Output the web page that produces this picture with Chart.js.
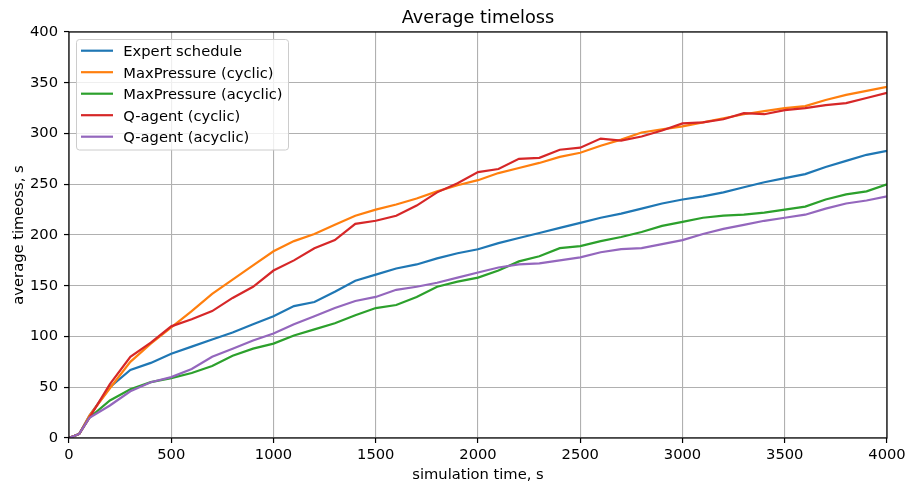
<!DOCTYPE html>
<html>
<head>
<meta charset="utf-8">
<script src="https://cdn.jsdelivr.net/npm/chart.js@4.4.1/dist/chart.umd.min.js"></script>
<style>
  html, body { margin: 0; padding: 0; background: #fff; }
</style>
</head>
<body>
<canvas id="myChart" width="906" height="483"></canvas>
<script>
// simulation time, s
const times = [0, 50, 100, 200, 300, 400, 500, 600, 700, 800, 900, 1000, 1100, 1200, 1300, 1400, 1500,
    1600, 1700, 1800, 1900, 2000, 2100, 2200, 2300, 2400, 2500, 2600, 2700, 2800, 2900, 3000,
    3100, 3200, 3300, 3400, 3500, 3600, 3700, 3800, 3900, 4000];

const expertSchedule = [0, 4, 22, 50, 67, 74, 83, 90, 97, 104, 112, 120, 130, 134, 144, 155, 161,
    167, 171, 177, 182, 186, 192, 197, 202, 207, 212, 217, 221, 226, 231, 235,
    238, 242, 247, 252, 256, 260, 267, 273, 279, 283];
const maxPressureCyclic = [0, 4, 22, 49, 75, 93, 109, 125, 142, 156, 170, 184, 194, 201, 210, 219, 225,
    230, 236, 243, 249, 254, 261, 266, 271, 277, 281, 288, 294, 301, 304, 307,
    311, 315, 319, 322, 325, 327, 333, 338, 342, 346];
const maxPressureAcyclic = [0, 4, 20, 37, 48, 55, 59, 64, 71, 81, 88, 93, 101, 107, 113, 121, 128,
    131, 139, 149, 154, 158, 165, 174, 179, 187, 189, 194, 198, 203, 209, 213,
    217, 219, 220, 222, 225, 228, 235, 240, 243, 250];
const qAgentCyclic = [0, 4, 20, 53, 80, 94, 110, 117, 125, 138, 149, 165, 175, 187, 195, 211, 214,
    219, 229, 242, 251, 262, 265, 275, 276, 284, 286, 295, 293, 297, 303, 310,
    311, 314, 320, 319, 323, 325, 328, 330, 335, 340];
const qAgentAcyclic = [0, 4, 20, 32, 46, 55, 60, 68, 80, 88, 96, 103, 112, 120, 128, 135, 139,
    146, 149, 153, 158, 163, 168, 171, 172, 175, 178, 183, 186, 187, 191, 195,
    201, 206, 210, 214, 217, 220, 226, 231, 234, 238];

const seriesNames = ['Expert schedule', 'MaxPressure (cyclic)', 'MaxPressure (acyclic)', 'Q-agent (cyclic)', 'Q-agent (acyclic)'];
const seriesValues = [expertSchedule, maxPressureCyclic, maxPressureAcyclic, qAgentCyclic, qAgentAcyclic];
const seriesColors = ['#1f77b4', '#ff7f0e', '#2ca02c', '#d62728', '#9467bd'];

const FONT = 'DejaVu Sans';
const tickFont = { family: FONT, size: 14.7 };

const datasets = seriesNames.map((name, i) => ({
    label: name,
    data: times.map((t, j) => ({ x: t, y: seriesValues[i][j] })),
    borderColor: seriesColors[i],
    backgroundColor: seriesColors[i],
    borderWidth: 2.2,
    pointRadius: 0,
    tension: 0,
    fill: false,
    order: seriesNames.length - i   // later series on top, like matplotlib
}));

// title, axis labels, frame and legend drawn by hand
const decorations = {
    id: 'decorations',
    afterDraw(chart) {
        const { ctx, chartArea: a } = chart;
        ctx.save();

        // frame
        ctx.strokeStyle = '#000';
        ctx.lineWidth = 1.2;
        ctx.strokeRect(a.left, a.top, a.right - a.left, a.bottom - a.top);

        // title
        ctx.fillStyle = '#000';
        ctx.textAlign = 'center';
        ctx.textBaseline = 'alphabetic';
        ctx.font = '17.7px "' + FONT + '"';
        ctx.fillText('Average timeloss', (a.left + a.right) / 2, 23.3);

        // axis labels
        ctx.font = '14.7px "' + FONT + '"';
        ctx.fillText('simulation time, s', (a.left + a.right) / 2, 479.3);
        ctx.save();
        ctx.translate(22.7, (a.top + a.bottom) / 2);
        ctx.rotate(-Math.PI / 2);
        ctx.fillText('average timeoss, s', 0, 0);
        ctx.restore();

        // legend
        const bx = 76.5, by = 39.5, bw = 212, bh = 110.5, r = 3;
        ctx.beginPath();
        ctx.roundRect(bx, by, bw, bh, r);
        ctx.fillStyle = 'rgba(255,255,255,0.8)';
        ctx.fill();
        ctx.strokeStyle = '#cccccc';
        ctx.lineWidth = 1;
        ctx.stroke();

        ctx.textAlign = 'left';
        seriesNames.forEach((name, i) => {
            const y = 50.7 + i * 21.5;
            ctx.beginPath();
            ctx.moveTo(81, y);
            ctx.lineTo(113, y);
            ctx.strokeStyle = seriesColors[i];
            ctx.lineWidth = 2.2;
            ctx.stroke();
            ctx.fillStyle = '#000';
            ctx.fillText(name, 123.3, y + 5.4);
        });

        ctx.restore();
    }
};

const myChart = new Chart(document.getElementById('myChart').getContext('2d'), {
    type: 'line',
    data: { datasets: datasets },
    options: {
        responsive: false,
        animation: false,
        devicePixelRatio: 1,
        layout: { padding: { top: 32, right: 19, left: 0, bottom: 0 } },
        plugins: {
            legend: { display: false },
            title: { display: false },
            tooltip: { enabled: false }
        },
        scales: {
            x: {
                type: 'linear',
                min: 0,
                max: 4000,
                afterFit: (scale) => {
                    scale.height = 45;
                    scale.paddingLeft = 0;
                    scale.paddingRight = 0;
                },
                ticks: { stepSize: 500, color: '#000', font: tickFont, padding: 3, maxRotation: 0,
                    callback: (v) => String(v) },
                grid: { color: '#b0b0b0', lineWidth: 1.1, tickColor: '#000', tickLength: 5, tickWidth: 1.2 },
                border: { display: false }
            },
            y: {
                min: 0,
                max: 400,
                afterFit: (scale) => {
                    scale.width = 69;
                    scale.paddingTop = 0;
                    scale.paddingBottom = 0;
                },
                ticks: { stepSize: 50, color: '#000', font: tickFont, padding: 6 },
                grid: { color: '#b0b0b0', lineWidth: 1.1, tickColor: '#000', tickLength: 5, tickWidth: 1.2 },
                border: { display: false }
            }
        }
    },
    plugins: [decorations]
});
</script>
</body>
</html>
